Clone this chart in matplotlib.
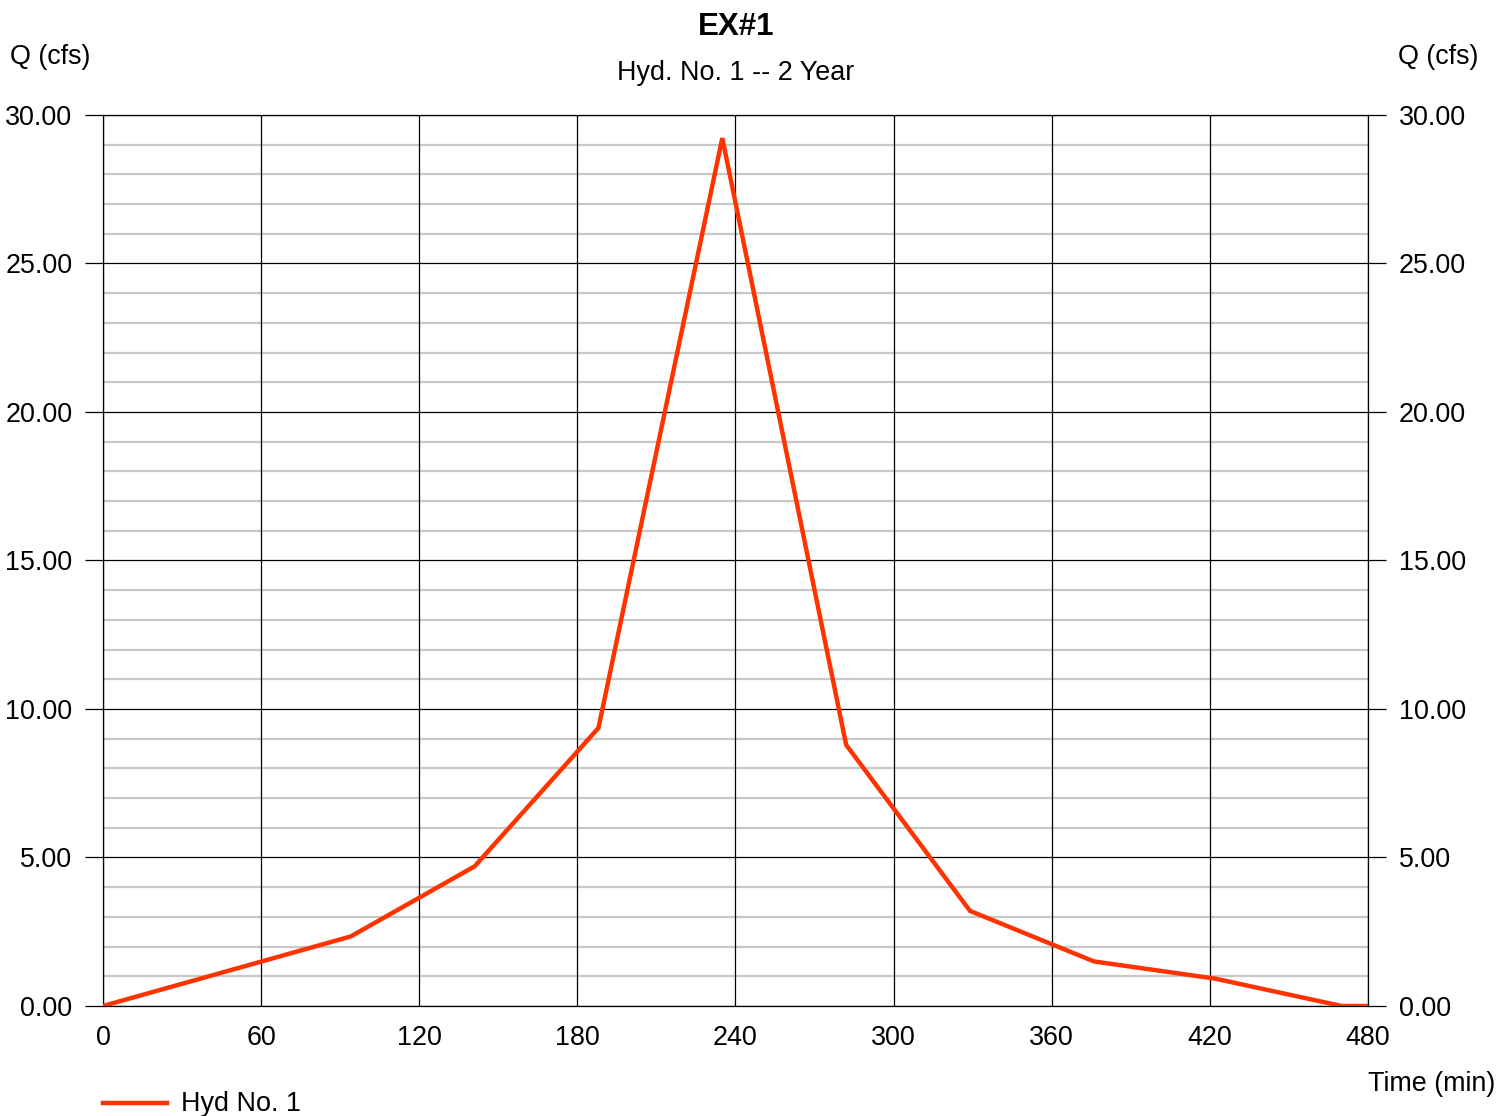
import numpy as np
import matplotlib
matplotlib.use("Agg")
import matplotlib.pyplot as plt
from matplotlib.lines import Line2D

plt.rcParams['font.family'] = ['Liberation Sans', 'DejaVu Sans']

# hydrograph ordinates
time_min = [0, 94, 141, 188, 235, 282, 329, 376, 422, 470, 480]
flow_cfs = [0.00, 2.34, 4.70, 9.36, 29.22, 8.79, 3.20, 1.50, 0.92, 0.00, 0.00]

x_ticks = [0, 60, 120, 180, 240, 300, 360, 420, 480]
y_major = [0, 5, 10, 15, 20, 25, 30]
y_minor = [v for v in range(0, 31) if v % 5 != 0]

FS = 19.4

fig = plt.figure(figsize=(14.97, 11.16), dpi=100)
ax = fig.add_axes([0.0688, 0.0986, 0.8450, 0.7984])

ax.set_xlim(0, 480)
ax.set_ylim(0, 30)

# light minor lines every 1 cfs, black major lines every 5 cfs
for v in y_minor:
    ax.axhline(v, color='#c8c8c8', lw=1.6, zorder=1)
for v in y_major:
    ax.axhline(v, color='black', lw=0.9, zorder=2)
for v in x_ticks:
    ax.axvline(v, color='black', lw=0.9, zorder=2)

ax.plot(time_min, flow_cfs, color='#ff3300', lw=3.2, zorder=5,
        solid_joinstyle='miter')

for s in ax.spines.values():
    s.set_linewidth(0.9)

ax.set_xticks(x_ticks)
ax.set_xticklabels([str(v) for v in x_ticks])
ax.set_yticks(y_major)
ax.set_yticklabels([f"{v:.2f}" for v in y_major])
ax.tick_params(axis='x', length=0, labelsize=FS, pad=14)
ax.tick_params(axis='y', length=13, width=0.9, labelsize=FS, pad=9,
               left=True, right=True, labelleft=True, labelright=True)

fig.text(0.4917, 0.976, "EX#1", ha='center', va='center', fontsize=22.5,
         fontweight='bold')
fig.text(0.4917, 0.935, "Hyd. No. 1 -- 2 Year", ha='center', va='center',
         fontsize=FS)
fig.text(0.0334, 0.9485, "Q (cfs)", ha='center', va='center', fontsize=FS)
fig.text(0.9606, 0.9485, "Q (cfs)", ha='center', va='center', fontsize=FS)
fig.text(0.9987, 0.0285, "Time (min)", ha='right', va='center', fontsize=FS)

# legend entry under the plot
fig.add_artist(Line2D([0.0688, 0.1115], [0.0117, 0.0117], color='#ff3300',
                      lw=3.2, transform=fig.transFigure))
fig.text(0.121, 0.0105, "Hyd No. 1", ha='left', va='center', fontsize=FS)

fig.savefig("out.png", dpi=100)
